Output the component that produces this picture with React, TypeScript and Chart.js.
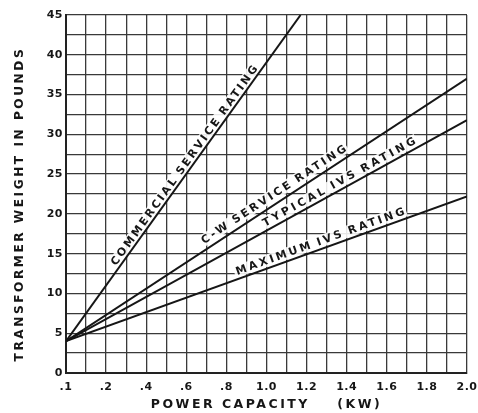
import React, { useEffect, useRef } from 'react';
import { Chart, registerables } from 'chart.js';

Chart.register(...registerables);

// ---- data ----
const xTickLabels = ['.1', '.2', '.4', '.6', '.8', '1.0', '1.2', '1.4', '1.6', '1.8', '2.0'];
const seriesNames = [
  'COMMERCIAL SERVICE RATING',
  'C-W SERVICE RATING',
  'TYPICAL IVS RATING',
  'MAXIMUM IVS RATING',
];
const commercialX = [0, 1.17];
const commercialY = [4.0, 45];
const cwX = [0, 2.0];
const cwY = [4.0, 37.0];
const typicalX = [0, 2.0];
const typicalY = [4.0, 31.8];
const maximumX = [0, 2.0];
const maximumY = [4.0, 22.2];

const xTitle = 'POWER CAPACITY    (KW)';
const yTitle = 'TRANSFORMER WEIGHT IN POUNDS   ';

// label placement along each line (fractions of the line, perpendicular offset in px)
const labelPlacement = [
  { t0: 0.234, t1: 0.82, offset: 6.5 },
  { t0: 0.36, t1: 0.70, offset: 9 },
  { t0: 0.51, t1: 0.87, offset: 7.5 },
  { t0: 0.44, t1: 0.84, offset: 7.5 },
];

const toPoints = (xs: number[], ys: number[]) => xs.map((x, i) => ({ x, y: ys[i] }));

const INK = '#161616';
const GRID = '#3a3a3a';
const FONT = '"DejaVu Sans", sans-serif';
const TITLE_SPACING = '2.5px';
const TICK_SPACING = '0.5px';

function labelGeom(chart: any, i: number) {
  const pts = chart.getDatasetMeta(i).data;
  const A = pts[0];
  const B = pts[pts.length - 1];
  const dx = B.x - A.x;
  const dy = B.y - A.y;
  const len = Math.hypot(dx, dy);
  const ux = dx / len;
  const uy = dy / len;
  const nx = uy;
  const ny = -ux;
  const s = labelPlacement[i];
  const tm = (s.t0 + s.t1) / 2;
  const cx = A.x + dx * tm + nx * s.offset;
  const cy = A.y + dy * tm + ny * s.offset;
  const target = (s.t1 - s.t0) * len + 8;
  return { cx, cy, ang: Math.atan2(dy, dx), target };
}

const lineLabelPlugin = {
  id: 'lineLabels',
  beforeLayout(chart: any) {
    chart.ctx.letterSpacing = TITLE_SPACING;
  },
  beforeDraw(chart: any) {
    chart.ctx.letterSpacing = TITLE_SPACING;
  },
  beforeDatasetsDraw(chart: any) {
    const ctx = chart.ctx;
    seriesNames.forEach((_, i) => {
      const g = labelGeom(chart, i);
      ctx.save();
      ctx.translate(g.cx, g.cy);
      ctx.rotate(g.ang);
      ctx.fillStyle = 'rgba(255,255,255,0.88)';
      ctx.fillRect(-g.target / 2 - 2, -6, g.target + 4, 12);
      ctx.restore();
    });
  },
  afterDatasetsDraw(chart: any) {
    const ctx = chart.ctx;
    const hasWS = 'wordSpacing' in ctx;
    seriesNames.forEach((text, i) => {
      const g = labelGeom(chart, i);
      ctx.save();
      ctx.font = `bold 11px ${FONT}`;
      ctx.letterSpacing = '0px';
      if (hasWS) ctx.wordSpacing = '0px';
      const w0 = ctx.measureText(text).width;
      const nSpaces = text.split(' ').length - 1;
      const k = hasWS ? 0.6 : 0;
      const sp = Math.max(0, (g.target - w0) / (text.length - 1 - k * nSpaces));
      ctx.letterSpacing = `${sp}px`;
      if (hasWS) ctx.wordSpacing = `${-k * sp}px`;
      ctx.translate(g.cx, g.cy);
      ctx.rotate(g.ang);
      ctx.fillStyle = INK;
      ctx.textAlign = 'left';
      ctx.textBaseline = 'middle';
      ctx.fillText(text, -g.target / 2, 0.5);
      ctx.restore();
    });
    if (hasWS) ctx.wordSpacing = '0px';
    // tick labels (z: 1) are drawn after this hook
    ctx.letterSpacing = TICK_SPACING;
  },
};

export default function App() {
  const ref = useRef<HTMLCanvasElement | null>(null);

  useEffect(() => {
    if (!ref.current) return;
    const mk = (i: number, xs: number[], ys: number[]) => ({
      label: seriesNames[i],
      data: toPoints(xs, ys),
      borderColor: INK,
      borderWidth: 2,
      pointRadius: 0,
      fill: false,
      tension: 0,
    });
    const chart = new Chart(ref.current, {
      type: 'line',
      data: {
        datasets: [
          mk(0, commercialX, commercialY),
          mk(1, cwX, cwY),
          mk(2, typicalX, typicalY),
          mk(3, maximumX, maximumY),
        ],
      },
      options: {
        animation: false,
        responsive: true,
        maintainAspectRatio: false,
        layout: { padding: { top: 15, right: 11, left: 0, bottom: 0 } },
        plugins: {
          legend: { display: false },
          tooltip: { enabled: false },
        },
        scales: {
          x: {
            type: 'linear',
            min: 0,
            max: 2,
            afterFit(scale: any) {
              scale.height = 40;
              scale.paddingLeft = 0;
              scale.paddingRight = 0;
            },
            ticks: {
              z: 1,
              stepSize: 0.1,
              autoSkip: false,
              maxRotation: 0,
              padding: 8,
              color: INK,
              font: { family: FONT, size: 11, weight: 'bold' },
              callback: (_v: any, index: number) =>
                index % 2 === 0 ? xTickLabels[index / 2] : '',
            },
            grid: { color: GRID, lineWidth: 1.3, drawTicks: false },
            border: { display: true, color: '#222', width: 2 },
            title: {
              display: true,
              text: xTitle,
              color: INK,
              font: { family: FONT, size: 12.5, weight: 'bold' },
              padding: { top: 0, bottom: 1 },
            },
          },
          y: {
            type: 'linear',
            min: 0,
            max: 45,
            afterFit(scale: any) {
              scale.width = 66;
              scale.paddingTop = 0;
              scale.paddingBottom = 0;
            },
            ticks: {
              z: 1,
              stepSize: 2.5,
              autoSkip: false,
              padding: 3,
              color: INK,
              font: { family: FONT, size: 11, weight: 'bold' },
              callback: (v: any) => (Number(v) % 5 === 0 ? String(v) : ''),
            },
            grid: { color: GRID, lineWidth: 1.3, drawTicks: false },
            border: { display: true, color: '#222', width: 2 },
            title: {
              display: true,
              text: yTitle,
              color: INK,
              font: { family: FONT, size: 12.2, weight: 'bold' },
              padding: { top: 13, bottom: 0 },
            },
          },
        },
      },
      plugins: [lineLabelPlugin],
    });
    return () => chart.destroy();
  }, []);

  return (
    <div style={{ position: 'absolute', left: 0, top: 0, width: 478, height: 413, background: '#fff' }}>
      <canvas ref={ref} />
    </div>
  );
}
